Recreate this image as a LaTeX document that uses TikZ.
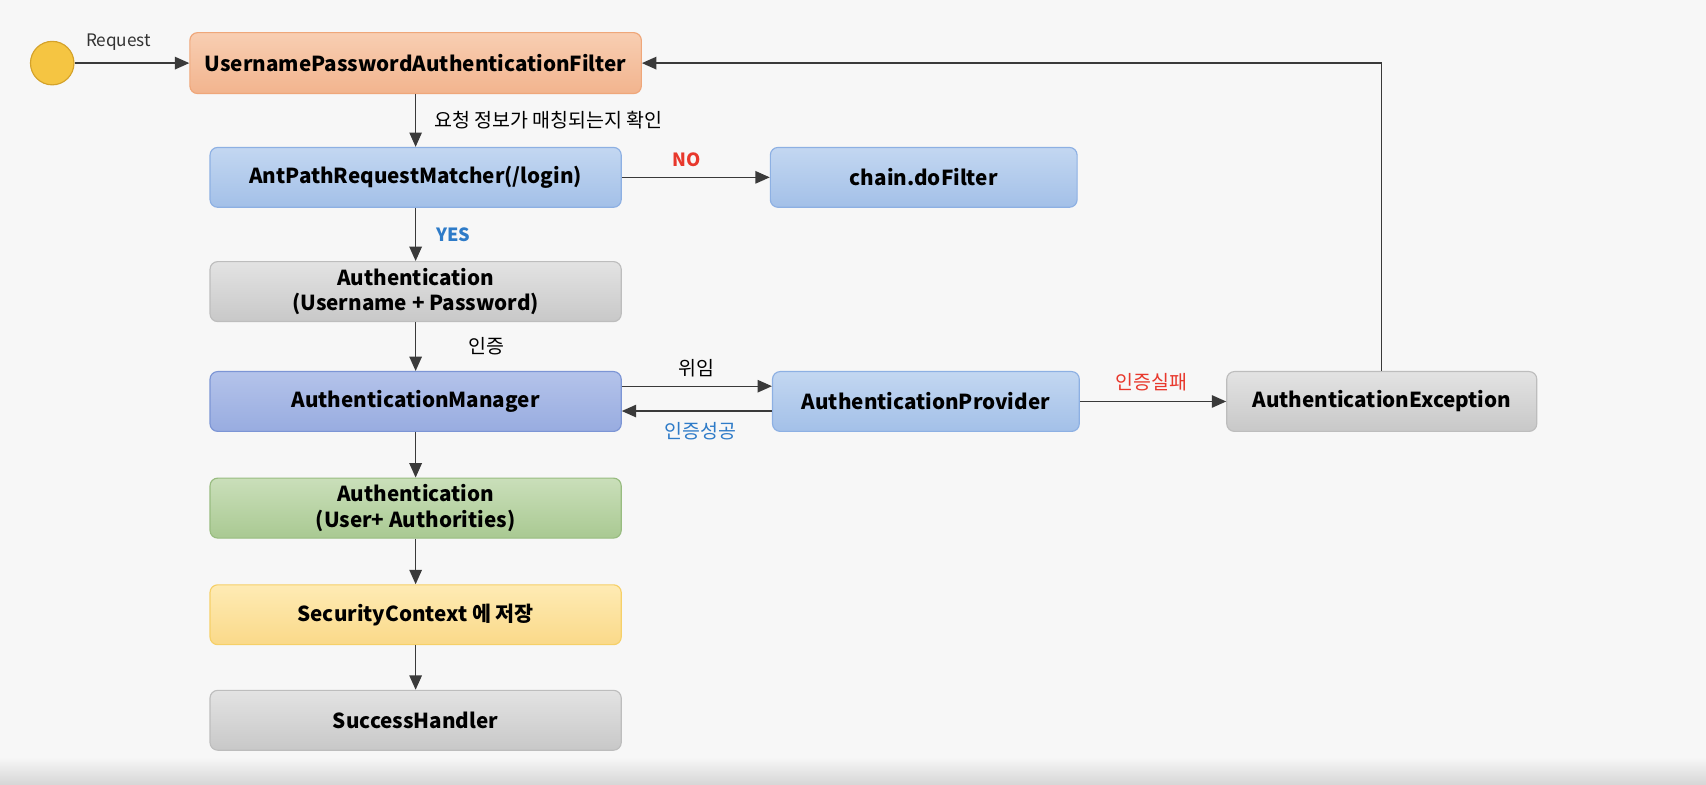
\documentclass[tikz,border=0pt]{standalone}
\usepackage{fontspec}
\setmainfont{Noto Sans CJK KR}
\usetikzlibrary{arrows.meta}
\definecolor{bgc}{HTML}{F7F7F7}
\definecolor{lblred}{HTML}{E8382C}
\definecolor{lblblue}{HTML}{2E7BC8}
\definecolor{linec}{HTML}{3A3A3A}
\definecolor{startfill}{HTML}{F5C542}\definecolor{startline}{HTML}{D4A22A}
\definecolor{orangetop}{HTML}{F8CEB2}\definecolor{orangebot}{HTML}{F2B48E}\definecolor{orangeline}{HTML}{EFA77A}
\definecolor{bluetop}{HTML}{C3D7F1}\definecolor{bluebot}{HTML}{A3C0E8}\definecolor{blueline}{HTML}{8DB0E3}
\definecolor{purpletop}{HTML}{B4C3EA}\definecolor{purplebot}{HTML}{98ACE0}\definecolor{purpleline}{HTML}{7C95D5}
\definecolor{graytop}{HTML}{E3E3E3}\definecolor{graybot}{HTML}{C8C8C8}\definecolor{grayline}{HTML}{BDBDBD}
\definecolor{greentop}{HTML}{CADFBA}\definecolor{greenbot}{HTML}{A9C992}\definecolor{greenline}{HTML}{98BC80}
\definecolor{yellowtop}{HTML}{FEEBB4}\definecolor{yellowbot}{HTML}{FAD989}\definecolor{yellowline}{HTML}{F6D068}
\begin{document}
\begin{tikzpicture}[x=0.02cm,y=-0.02cm,
    >={Triangle[width=6.5pt,length=7.5pt]},
    flow/.style={draw=linec,line width=0.7pt},
    box/.style={rounded corners=4pt,line width=0.6pt,minimum width=7.56cm,minimum height=1.1cm,
        align=center,font=\bfseries\fontsize{10.8}{13.5}\selectfont,text=black},
    orangebox/.style={box,draw=orangeline,top color=orangetop,bottom color=orangebot},
    bluebox/.style={box,draw=blueline,top color=bluetop,bottom color=bluebot},
    purplebox/.style={box,draw=purpleline,top color=purpletop,bottom color=purplebot},
    graybox/.style={box,draw=grayline,top color=graytop,bottom color=graybot},
    greenbox/.style={box,draw=greenline,top color=greentop,bottom color=greenbot},
    yellowbox/.style={box,draw=yellowline,top color=yellowtop,bottom color=yellowbot},
    lbl/.style={font=\fontsize{10.2}{12}\selectfont,text=black},
  ]
  \fill[bgc] (0,0) rectangle (1568,721);
  \shade[top color=bgc,bottom color=black!16] (0,696) rectangle (1568,721);
  \useasboundingbox (0,0) rectangle (1568,721);

  % start point
  \node (start) at (48,58) [circle,minimum size=0.8cm,line width=0.6pt,draw=startline,fill=startfill] {};
  \node (filter) at (382,58) [orangebox,minimum width=8.3cm,minimum height=1.12cm] {UsernamePasswordAuthenticationFilter};
  \node (matcher) at (382,163) [bluebox] {AntPathRequestMatcher(/login)};
  \node (dofilter) at (849,163) [bluebox,minimum width=5.64cm] {chain.doFilter};
  \node (token) at (382,268) [graybox] {Authentication\\(Username + Password)};
  \node (manager) at (382,369) [purplebox] {AuthenticationManager};
  \node (provider) at (851,369) [bluebox,minimum width=5.64cm] {AuthenticationProvider};
  \node (exception) at (1270,369) [graybox,minimum width=5.7cm] {AuthenticationException};
  \node (result) at (382,467) [greenbox] {Authentication\\(User+ Authorities)};
  \node (context) at (382,565) [yellowbox] {SecurityContext 에 저장};
  \node (handler) at (382,662) [graybox] {SuccessHandler};

  % connectors
  \draw [flow,->] (start) -- node[above=3pt,xshift=-7pt,font=\fontsize{9}{11}\selectfont,text=black!80] {Request} (filter);
  \draw [flow,->] (filter) -- node[lbl,right=6pt] {요청 정보가 매칭되는지 확인} (matcher);
  \draw [flow,->] (matcher) -- node[above=2pt,font=\bfseries\fontsize{9.5}{11}\selectfont,text=lblred,xshift=-5pt] {NO} (dofilter);
  \draw [flow,->] (matcher) -- node[right=7pt,font=\bfseries\fontsize{9.5}{11}\selectfont,text=lblblue] {YES} (token);
  \draw [flow,->] (token) -- node[lbl,right=24pt] {인증} (manager);
  \draw [flow,->] ([yshift=8pt]manager.east) -- node[lbl,above=1pt] {위임} ([yshift=8pt]provider.west);
  \draw [flow,->] ([yshift=-5pt]provider.west) -- node[below=2pt,font=\fontsize{10.2}{12}\selectfont,text=lblblue,xshift=2pt] {인증성공} ([yshift=-5pt]manager.east);
  \draw [flow,->] (provider) -- node[above=2pt,font=\fontsize{10.2}{12}\selectfont,text=lblred,xshift=-1pt] {인증실패} (exception);
  \draw [flow,->] (exception) |- (filter);
  \draw [flow,->] (manager) -- (result);
  \draw [flow,->] (result) -- (context);
  \draw [flow,->] (context) -- (handler);
\end{tikzpicture}
\end{document}
